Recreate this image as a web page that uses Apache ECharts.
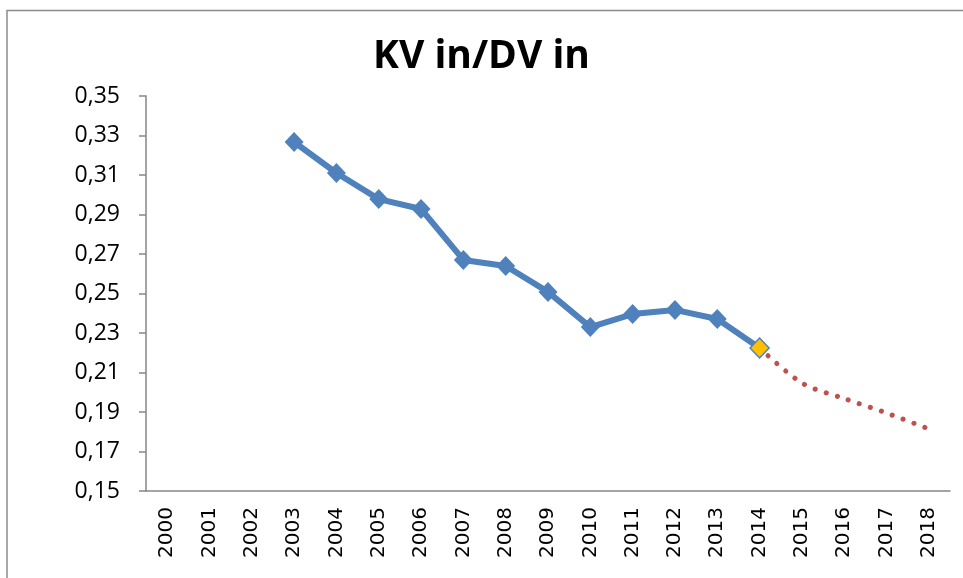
<!DOCTYPE html>
<html>
<head>
<meta charset="utf-8">
<script src="https://cdn.jsdelivr.net/npm/echarts@6/dist/echarts.min.js"></script>
<style>
  html, body { margin: 0; padding: 0; background: #fff; }
  #chart { width: 963px; height: 578px; }
</style>
</head>
<body>
<div id="chart"></div>
<script>
// jaren op de x-as
var years = ['2000', '2001', '2002', '2003', '2004', '2005', '2006', '2007', '2008', '2009',
  '2010', '2011', '2012', '2013', '2014', '2015', '2016', '2017', '2018'];
// KV in / DV in, gemeten (2003-2014)
var ratio = [null, null, null, 0.3267, 0.3110, 0.2978, 0.2928, 0.2670, 0.2639, 0.2508,
  0.2330, 0.2396, 0.2417, 0.2371, 0.2224, null, null, null, null];
// trendlijn (prognose 2014-2018)
var trend = [null, null, null, null, null, null, null, null, null, null,
  null, null, null, null, 0.2224, 0.2047, 0.1968, 0.1895, 0.1814];
var lastIdx = 14;  // laatste meetpunt, oranje

var chart = echarts.init(document.getElementById('chart'));

var mainData = ratio.map(function (v, i) {
  if (v === null) return '-';
  if (i === lastIdx) {
    return { value: v, itemStyle: { color: '#FFC000', borderColor: '#4F81BD', borderWidth: 1.5 } };
  }
  return v;
});
var trendData = trend.map(function (v) { return v === null ? '-' : v; });

chart.setOption({
  animation: false,
  title: {
    text: 'KV in/DV in',
    left: 'center',
    top: 32,
    textStyle: { fontFamily: 'Open Sans', fontWeight: 'bold', fontSize: 39, color: '#000' }
  },
  // rand om de grafiek
  graphic: [{
    type: 'rect',
    shape: { x: 7, y: 10.5, width: 1000, height: 600 },
    style: { fill: null, stroke: '#8c8c8c', lineWidth: 1.5 },
    silent: true
  }],
  grid: { left: 146, top: 96, right: 13, bottom: 87 },
  xAxis: {
    type: 'category',
    data: years,
    boundaryGap: true,
    axisLine: { lineStyle: { color: '#868686', width: 1.5 } },
    axisTick: { length: 6, lineStyle: { color: '#868686', width: 1.5 } },
    axisLabel: {
      rotate: 90,
      margin: 16,
      interval: 0,
      fontFamily: 'DejaVu Sans',
      fontSize: 20,
      color: '#000'
    },
    splitLine: { show: false }
  },
  yAxis: {
    type: 'value',
    min: 0.15,
    max: 0.35,
    interval: 0.02,
    axisLine: { show: true, lineStyle: { color: '#868686', width: 1.5 } },
    axisTick: { show: true, length: 7, lineStyle: { color: '#868686', width: 1.5 } },
    axisLabel: {
      margin: 26,
      fontFamily: 'Open Sans',
      fontSize: 23,
      color: '#000',
      formatter: function (v) { return v.toFixed(2).replace('.', ','); }
    },
    splitLine: { show: false }
  },
  series: [
    {
      name: 'trend',
      type: 'line',
      data: trendData,
      smooth: 0.3,
      symbol: 'none',
      z: 1,
      lineStyle: { color: '#C0504D', width: 5, type: [0.1, 11.5], cap: 'round' }
    },
    {
      name: 'KV in/DV in',
      type: 'line',
      data: mainData,
      symbol: 'diamond',
      symbolSize: [19, 20],
      showSymbol: true,
      z: 3,
      itemStyle: { color: '#4F81BD' },
      lineStyle: { color: '#4F81BD', width: 6 }
    }
  ]
});
</script>
</body>
</html>
